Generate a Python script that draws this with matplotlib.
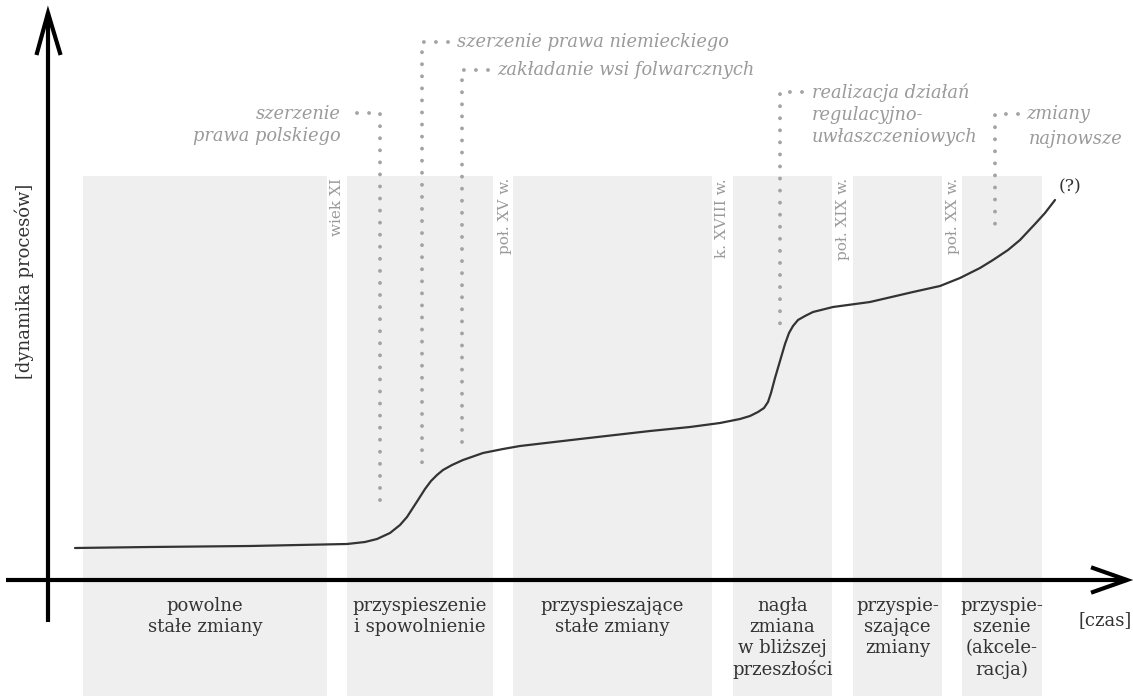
import matplotlib
matplotlib.use("Agg")
import matplotlib.pyplot as plt

# ---------------- data (chart coordinates: x = time, y = screen-like level, inverted axis) ----------------
curve_t = [75, 150, 250, 347, 365, 377, 390, 400, 407, 418, 425, 431, 437, 443, 452, 463, 483, 503,
           520, 580, 650, 690, 720, 740, 750, 758, 764, 768, 771, 775, 780, 785, 789, 793, 798, 805,
           813, 833, 870, 913, 940, 960, 980, 993, 1008, 1020, 1035, 1045, 1055]
curve_y = [548, 547, 546, 544, 542, 539, 533, 525, 517, 500, 489, 481, 475, 470, 465, 460, 453, 449,
           446, 439, 431, 427, 423, 419, 416, 412, 408, 402, 393, 378, 361, 344, 333, 326, 320, 316,
           312, 307, 302, 292, 286, 278, 268, 260, 250, 240, 224, 213, 200]

band_starts = [83, 347, 513, 733, 853, 962]
band_ends = [327, 493, 712, 832, 942, 1042]
band_labels = ["powolne\nstałe zmiany", "przyspieszenie\ni spowolnienie",
               "przyspieszające\nstałe zmiany", "nagła\nzmiana\nw bliższej\nprzeszłości",
               "przyspie-\nszające\nzmiany", "przyspie-\nszenie\n(akcele-\nracja)"]

period_labels = ["wiek XI", "poł. XV w.", "k. XVIII w.", "poł. XIX w.", "poł. XX w."]
period_x = [337, 505, 722, 843, 953]

events = ["szerzenie\nprawa polskiego", "szerzenie prawa niemieckiego", "zakładanie wsi folwarcznych",
          "realizacja działań\nregulacyjno-\nuwłaszczeniowych", "zmiany"]
event_x = [380, 422, 462, 780, 995]          # position of the vertical marker
event_top = [113, 42, 70, 92, 114]            # level of the leader
event_bottom = [511, 474, 443, 331, 233]      # end of the marker
event_leader_end = [357, 448, 488, 802, 1018]

# ---------------- figure ----------------
W, H = 1133, 696
fig = plt.figure(figsize=(W / 100, H / 100), dpi=100)
ax = fig.add_axes([0, 0, 1, 1])
ax.set_xlim(0, W)
ax.set_ylim(H, 0)
ax.axis("off")

SERIF = "DejaVu Serif"
BAND = "#efefef"
GREY = "#9a9a9a"
DARK = "#333333"
band_top = 176

for s, e in zip(band_starts, band_ends):
    ax.axvspan(s, e, ymin=0, ymax=(H - band_top) / H, color=BAND, lw=0, zorder=0)

# dotted markers
for x, top, bot, lead in zip(event_x, event_top, event_bottom, event_leader_end):
    ax.plot([lead, x, x], [top, top, bot], color="#a3a3a3", lw=2.8,
            linestyle=(0, (0.001, 3.1)), dash_capstyle="round", zorder=2)

# curve
ax.plot(curve_t, curve_y, color=DARK, lw=1.6, zorder=3, solid_capstyle="round",
        solid_joinstyle="round")

# axes with arrows
axis_y, axis_x = 580, 48
ax.plot([6, 1127], [axis_y, axis_y], color="black", lw=3.0, zorder=4, solid_capstyle="butt")
ax.plot([axis_x, axis_x], [622, 13], color="black", lw=3.0, zorder=4, solid_capstyle="butt")
ax.plot([1093, 1127, 1093], [568, axis_y, 592], color="black", lw=3.0, zorder=4,
        solid_joinstyle="miter")
ax.plot([37, axis_x, 60], [53, 13, 53], color="black", lw=3.0, zorder=4, solid_joinstyle="miter")

# band labels
for s, e, lab in zip(band_starts, band_ends, band_labels):
    ax.text((s + e) / 2, 597, lab, ha="center", va="top", family=SERIF, fontsize=13,
            color=DARK, linespacing=1.22, zorder=5)

ax.text(1105, 620, "[czas]", ha="center", va="center", family=SERIF, fontsize=13, color=DARK)
ax.text(24, 281, "[dynamika procesów]", ha="center", va="center", rotation=90,
        family=SERIF, fontsize=13, color=DARK)

# period labels
for x, lab in zip(period_x, period_labels):
    ax.text(x, 178, lab, ha="center", va="top", rotation=90, family=SERIF, fontsize=11,
            color=GREY, zorder=5)

# event annotations
kw = dict(family=SERIF, style="italic", fontsize=12.8, color=GREY, zorder=5)
ax.text(341, 125, events[0], ha="right", va="center", linespacing=1.3, **kw)
ax.text(457, 42, events[1], ha="left", va="center", **kw)
ax.text(497, 70, events[2], ha="left", va="center", **kw)
ax.text(812, 115, events[3], ha="left", va="center", linespacing=1.3, **kw)
ax.text(1026, 114, events[4], ha="left", va="center", **kw)
ax.text(1123, 139, "najnowsze", ha="right", va="center", **kw)
ax.text(1070, 187, "(?)", ha="center", va="center", family=SERIF, fontsize=12.5, color=DARK)

fig.savefig("out.png", dpi=100)
